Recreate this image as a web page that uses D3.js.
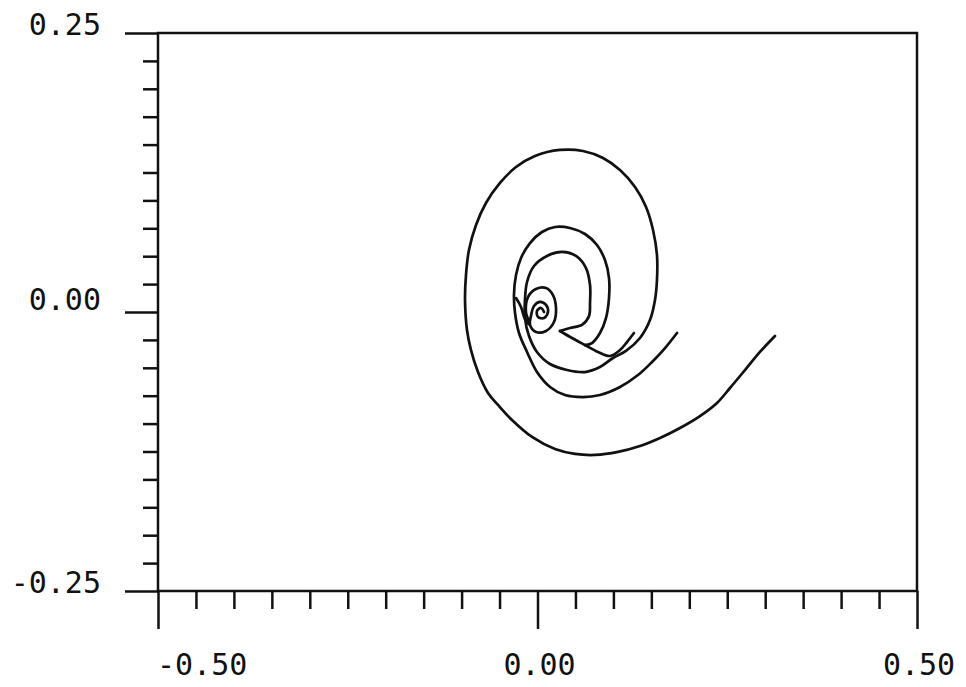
<!DOCTYPE html>
<html>
<head>
<meta charset="utf-8">
<script src="https://cdn.jsdelivr.net/npm/d3@7"></script>
<style>
  body { margin: 0; background: #fff; }
  text { font-family: "DejaVu Sans Mono", "Liberation Mono", monospace; font-variant-numeric: slashed-zero; fill: #111; }
</style>
</head>
<body>
<div id="chart"></div>
<script>
// axis label values
const xLabelValues = [-0.5, 0, 0.5];
const yLabelValues = [-0.25, 0, 0.25];

// outer arm, runs from the far right tip all the way into the third turn
const outerArm = [
  [0.3129, -0.0215], [0.2931, -0.0358], [0.2734, -0.0520], [0.2536, -0.0681], [0.2365, -0.0815],
  [0.2141, -0.0932], [0.1877, -0.1039], [0.1614, -0.1129], [0.1350, -0.1201], [0.1061, -0.1254],
  [0.0758, -0.1281], [0.0494, -0.1272], [0.0231, -0.1228], [-0.0072, -0.1120], [-0.0336, -0.0968],
  [-0.0520, -0.0833], [-0.0652, -0.0726], [-0.0784, -0.0538], [-0.0876, -0.0341], [-0.0929, -0.0161],
  [-0.0955, 0.0108], [-0.0942, 0.0332], [-0.0903, 0.0556], [-0.0810, 0.0780], [-0.0679, 0.0977],
  [-0.0494, 0.1156], [-0.0283, 0.1299], [-0.0033, 0.1398], [0.0296, 0.1452], [0.0599, 0.1443],
  [0.0863, 0.1380], [0.1087, 0.1272], [0.1285, 0.1120], [0.1430, 0.0941], [0.1522, 0.0735],
  [0.1574, 0.0511], [0.1574, 0.0287], [0.1548, 0.0108], [0.1482, -0.0072], [0.1350, -0.0233],
  [0.1166, -0.0349], [0.0995, -0.0412], [0.0823, -0.0493], [0.0626, -0.0538], [0.0389, -0.0520],
  [0.0165, -0.0466], [-0.0007, -0.0358], [-0.0112, -0.0215], [-0.0165, -0.0054], [-0.0165, 0.0108],
  [-0.0138, 0.0269], [-0.0046, 0.0412], [0.0125, 0.0502], [0.0323, 0.0538], [0.0507, 0.0502],
  [0.0639, 0.0394], [0.0692, 0.0242], [0.0692, 0.0081], [0.0679, -0.0036], [0.0586, -0.0116],
  [0.0428, -0.0143], [0.0296, -0.0170]
];

// short hook from the notch out to the nearest tip
const innerHook = [
  [0.0296, -0.0170], [0.0455, -0.0233], [0.0626, -0.0296], [0.0797, -0.0358], [0.0955, -0.0394],
  [0.1087, -0.0341], [0.1179, -0.0269], [0.1271, -0.0188]
];

// middle arm, second tip round the middle loop
const middleArm = [
  [0.1838, -0.0188], [0.1680, -0.0323], [0.1509, -0.0448], [0.1324, -0.0565], [0.1087, -0.0672],
  [0.0823, -0.0744], [0.0599, -0.0762], [0.0362, -0.0744], [0.0165, -0.0672], [-0.0007, -0.0538],
  [-0.0138, -0.0358], [-0.0244, -0.0188], [-0.0296, -0.0009], [-0.0310, 0.0152], [-0.0283, 0.0332],
  [-0.0217, 0.0484], [-0.0099, 0.0618], [0.0059, 0.0717], [0.0231, 0.0762], [0.0428, 0.0753],
  [0.0626, 0.0699], [0.0784, 0.0600], [0.0889, 0.0466], [0.0942, 0.0305], [0.0942, 0.0125],
  [0.0902, -0.0054], [0.0823, -0.0188], [0.0718, -0.0278], [0.0626, -0.0296]
];

// small turns at the core
const coreSpiral = [
  [-0.0283, 0.0125], [-0.0217, 0.0045], [-0.0165, -0.0063], [-0.0099, -0.0116], [-0.0152, 0.0000],
  [-0.0125, 0.0134], [-0.0020, 0.0206], [0.0112, 0.0215], [0.0204, 0.0152], [0.0244, 0.0036],
  [0.0217, -0.0090], [0.0112, -0.0170], [-0.0020, -0.0179], [-0.0099, -0.0116], [-0.0086, -0.0036],
  [-0.0046, 0.0054], [0.0033, 0.0090], [0.0112, 0.0063], [0.0138, 0.0000], [0.0086, -0.0054],
  [0.0007, -0.0045], [-0.0007, 0.0009], [0.0046, 0.0036], [0.0086, 0.0000]
];

const curves = [outerArm, innerHook, middleArm, coreSpiral];

const width = 966;
const height = 687;
const plot = { left: 158, right: 917, top: 33, bottom: 591 };
const ink = "#111";

const svg = d3.select("#chart").append("svg")
    .attr("width", width)
    .attr("height", height);

const x = d3.scaleLinear().domain([-0.5, 0.5]).range([plot.left, plot.right]);
const y = d3.scaleLinear().domain([-0.25, 0.25]).range([plot.bottom, plot.top]);

// frame
svg.append("rect")
    .attr("x", plot.left)
    .attr("y", plot.top)
    .attr("width", plot.right - plot.left)
    .attr("height", plot.bottom - plot.top)
    .attr("fill", "none")
    .attr("stroke", ink)
    .attr("stroke-width", 2.5);

// minor ticks
const xMinor = d3.range(-0.45, 0.4501, 0.05).filter(function(v) { return Math.abs(v) > 1e-6; });
const yMinor = d3.range(-0.225, 0.2251, 0.025).filter(function(v) { return Math.abs(v) > 1e-6; });

function styleAxis(g) {
  g.select(".domain").remove();
  g.selectAll(".tick line").attr("stroke", ink).attr("stroke-width", 2.5);
  g.selectAll(".tick text").remove();
}

svg.append("g")
    .attr("transform", "translate(0," + plot.bottom + ")")
    .call(d3.axisBottom(x).tickValues(xMinor).tickSize(18).tickFormat(""))
    .call(styleAxis);

svg.append("g")
    .attr("transform", "translate(0," + plot.bottom + ")")
    .call(d3.axisBottom(x).tickValues(xLabelValues).tickSize(38).tickFormat(""))
    .call(styleAxis);

svg.append("g")
    .attr("transform", "translate(" + plot.left + ",0)")
    .call(d3.axisLeft(y).tickValues(yMinor).tickSize(15).tickFormat(""))
    .call(styleAxis);

svg.append("g")
    .attr("transform", "translate(" + plot.left + ",0)")
    .call(d3.axisLeft(y).tickValues(yLabelValues).tickSize(33).tickFormat(""))
    .call(styleAxis);

// labels, plain hyphen minus like the plotter
const fmt = d3.formatLocale({ decimal: ".", thousands: ",", grouping: [3], currency: ["", ""], minus: "-" }).format(".2f");

svg.selectAll(".xlabel")
    .data(xLabelValues)
    .enter().append("text")
    .attr("class", "xlabel")
    .attr("x", function(d, i) { return i === 0 ? x(d) - 1 : x(d) + 2; })
    .attr("y", 675)
    .attr("text-anchor", function(d, i) { return i === 0 ? "start" : "middle"; })
    .style("font-size", "30px")
    .text(function(d) { return fmt(d); });

svg.selectAll(".ylabel")
    .data(yLabelValues)
    .enter().append("text")
    .attr("class", "ylabel")
    .attr("x", 101)
    .attr("y", function(d) { return d === 0 ? y(d) - 2 : y(d) + 2; })
    .attr("text-anchor", "end")
    .style("font-size", "30px")
    .text(function(d) { return fmt(d); });

// spiral curves
const line = d3.line()
    .x(function(d) { return x(d[0]); })
    .y(function(d) { return y(d[1]); })
    .curve(d3.curveCatmullRom.alpha(0.5));

svg.selectAll(".arm")
    .data(curves)
    .enter().append("path")
    .attr("class", "arm")
    .attr("d", line)
    .attr("fill", "none")
    .attr("stroke", ink)
    .attr("stroke-width", 2.7)
    .attr("stroke-linejoin", "round")
    .attr("stroke-linecap", "round");
</script>
</body>
</html>
